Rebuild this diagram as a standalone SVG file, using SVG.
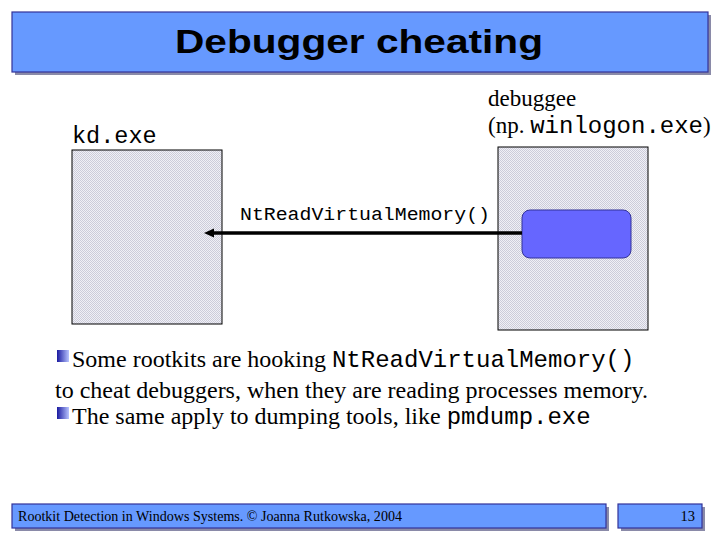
<svg xmlns="http://www.w3.org/2000/svg" width="720" height="540" viewBox="0 0 720 540">
<style>
.bar{fill:#6699ff;stroke:#333399;stroke-width:1.2}
.shadow{fill:#8a8aa8}
.proc{fill:url(#hatch);stroke:#000;stroke-width:1}
.mono{font-family:"Liberation Mono","Courier New",monospace;fill:#000}
.serif{font-family:"Liberation Serif","Times New Roman",serif;fill:#000}
</style>
<defs>
<pattern id="hatch" width="2" height="2" patternUnits="userSpaceOnUse">
<rect width="2" height="2" fill="#f0f0f6"/>
<rect width="1" height="1" fill="#ccccda"/>
<rect x="1" y="1" width="1" height="1" fill="#ccccda"/>
</pattern>
<linearGradient id="bullet" x1="0" y1="0" x2="1" y2="0">
<stop offset="0" stop-color="#1a1aa0"/>
<stop offset="1" stop-color="#b8c4ff"/>
</linearGradient>
<marker id="arrow" markerWidth="10" markerHeight="10" refX="4" refY="5" orient="auto" markerUnits="userSpaceOnUse">
<path d="M0,0.5 L10,5 L0,9.5 z" fill="#000"/>
</marker>
</defs>
<rect width="720" height="540" fill="#fff"/>
<g id="title">
<rect class="shadow" x="15" y="15" width="696" height="60"/>
<rect class="bar" x="12" y="12" width="696" height="60"/>
<text x="359" y="53" text-anchor="middle" font-family="Liberation Sans,Arial,sans-serif" font-weight="bold" font-size="33" textLength="368" lengthAdjust="spacingAndGlyphs">Debugger cheating</text>
</g>
<g id="kd">
<rect class="proc" x="72" y="150" width="150" height="174"/>
<text class="mono" x="72" y="143" font-size="23.5">kd.exe</text>
</g>
<g id="debuggee">
<rect class="proc" x="498" y="147" width="150" height="183"/>
<text class="serif" x="488" y="106" font-size="23">debuggee</text>
<text class="serif" x="488" y="133" font-size="23">(np. <tspan class="mono" font-size="24">winlogon.exe</tspan>)</text>
</g>
<g id="hook">
<rect x="522" y="210" width="109" height="48" rx="8" ry="8" fill="#6666ff" stroke="#333399" stroke-width="1"/>
</g>
<g id="connectors">
<line x1="522" y1="233" x2="210" y2="233" stroke="#000" stroke-width="3.5" marker-end="url(#arrow)"/>
<text class="mono" x="240" y="220" font-size="19" textLength="250" lengthAdjust="spacingAndGlyphs">NtReadVirtualMemory()</text>
</g>
<g id="text">
<rect x="57" y="350" width="12" height="12" fill="url(#bullet)"/>
<text class="serif" x="72" y="367" font-size="24">Some rootkits are hooking <tspan class="mono" font-size="24">NtReadVirtualMemory()</tspan></text>
<text class="serif" x="55" y="398" font-size="24" textLength="593" lengthAdjust="spacingAndGlyphs">to cheat debuggers, when they are reading processes memory.</text>
<rect x="57" y="407" width="12" height="12" fill="url(#bullet)"/>
<text class="serif" x="72" y="424" font-size="24">The same apply to dumping tools, like <tspan class="mono" font-size="24">pmdump.exe</tspan></text>
</g>
<g id="footer">
<rect class="shadow" x="15" y="507" width="594" height="24"/>
<rect class="bar" x="12" y="504" width="594" height="24"/>
<text class="serif" x="18" y="521" font-size="14.5" textLength="384" lengthAdjust="spacingAndGlyphs">Rootkit Detection in Windows Systems. © Joanna Rutkowska, 2004</text>
<rect class="shadow" x="621" y="507" width="84" height="24"/>
<rect class="bar" x="618" y="504" width="84" height="24"/>
<text class="serif" x="695" y="521" font-size="14.5" text-anchor="end">13</text>
</g>
</svg>
